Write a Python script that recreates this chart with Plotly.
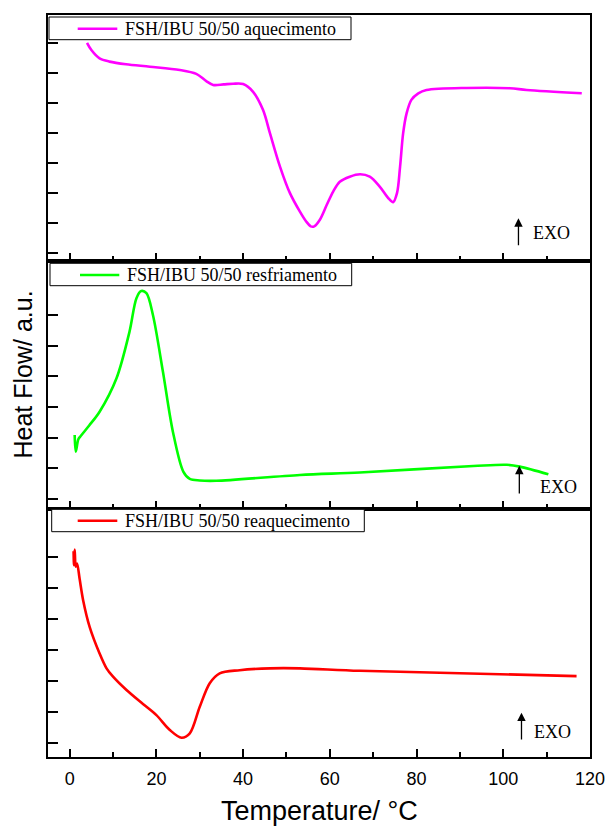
import plotly.graph_objects as go

# DSC curves, FSH/IBU 50/50 (temperature in °C, heat flow in arbitrary units)
heat_T = [4.0, 5.0, 6.9, 9.2, 13.0, 18.5, 25.4, 29.2, 31.5, 33.1, 35.5, 37.7, 40.0,
          42.3, 44.6, 46.2, 48.5, 50.8, 53.1, 54.5, 55.6, 56.4, 57.7, 59.3, 60.8,
          62.3, 64.6, 67.0, 69.2, 71.5, 73.5, 74.6, 75.5, 76.2, 76.9, 77.7, 78.8,
          80.4, 82.3, 91.5, 101.5, 105.4, 118.1]
heat_HF = [7.02, 6.78, 6.50, 6.39, 6.30, 6.22, 6.11, 5.98, 5.74, 5.61, 5.63, 5.65, 5.64,
           5.38, 4.77, 3.99, 2.88, 1.99, 1.37, 1.05, 0.88, 0.88, 1.10, 1.60, 2.05,
           2.37, 2.54, 2.62, 2.54, 2.21, 1.82, 1.69, 2.00, 2.88, 3.99, 4.66, 5.11,
           5.33, 5.44, 5.51, 5.50, 5.44, 5.33]

cool_T = [1.15, 1.4, 2.0, 2.5, 4.5, 6.9, 10.8, 13.8, 15.4, 16.5, 17.7, 19.2, 21.5,
          23.8, 26.2, 27.7, 30.0, 33.8, 53.1, 66.9, 93.1, 100.8, 103.8, 110.4]
cool_HF = [2.09, 1.55, 1.95, 2.05, 2.40, 2.85, 3.94, 5.46, 6.55, 6.78, 6.71, 6.00, 4.16,
           2.20, 0.90, 0.66, 0.61, 0.60, 0.79, 0.87, 1.08, 1.12, 1.06, 0.81]

reheat_T = [0.9, 1.0, 1.15, 1.4, 1.7, 2.3, 3.1, 4.6, 6.9, 8.5, 10.0, 13.1, 16.9,
            20.0, 23.1, 25.8, 27.7, 30.0, 32.3, 34.6, 39.2, 46.2, 53.1, 66.9, 116.9]
reheat_HF = [6.20, 5.75, 6.25, 5.70, 5.80, 5.30, 4.62, 3.76, 2.90, 2.42, 2.15, 1.72,
             1.27, 0.91, 0.43, 0.18, 0.32, 1.18, 1.94, 2.26, 2.36, 2.42, 2.42, 2.34, 2.17]

series_names = ["FSH/IBU 50/50 aquecimento",
                "FSH/IBU 50/50 resfriamento",
                "FSH/IBU 50/50 reaquecimento"]
series_colors = ["#FF00FF", "#00FF00", "#FF0000"]

x_ticks = [0, 20, 40, 60, 80, 100, 120]
x_minor = [10, 30, 50, 70, 90, 110]

W, H = 609, 827
L, R, T, B = 48, 19, 15, 70
pw, ph = W - L - R, H - T - B


def px_x(p):
    return (p - L) / pw


def px_y(p):
    return (H - B - p) / ph


# panel boundaries in page pixels (top, bottom)
panels = [(15, 261), (261, 509), (509, 757)]
y_ranges = [[-0.28, 7.95], [-0.32, 7.76], [-0.44, 7.56]]
y_ticks = [list(range(0, 8)), list(range(0, 7)), list(range(0, 7))]

fig = go.Figure()
data = [(heat_T, heat_HF), (cool_T, cool_HF), (reheat_T, reheat_HF)]
for i, (xs, ys) in enumerate(data):
    sfx = "" if i == 0 else str(i + 1)
    fig.add_trace(go.Scatter(
        x=xs, y=ys, mode="lines", name=series_names[i],
        line=dict(color=series_colors[i], width=2.6, shape="spline", smoothing=0.9),
        xaxis="x" + sfx, yaxis="y" + sfx, showlegend=False,
    ))

layout = dict(
    width=W, height=H,
    margin=dict(l=L, r=R, t=T, b=B, autoexpand=False),
    paper_bgcolor="white", plot_bgcolor="white",
    font=dict(family="Liberation Sans, Arial", color="black"),
)

for i, (top, bot) in enumerate(panels):
    sfx = "" if i == 0 else str(i + 1)
    xa = dict(
        domain=[0, 1], range=[-5, 120], anchor="y" + sfx, automargin=False,
        showline=True, linewidth=2, linecolor="black", mirror=True,
        ticks="inside", ticklen=8, tickwidth=1.5, tickcolor="black",
        tickvals=x_ticks,
        minor=dict(ticks="inside", ticklen=5, tickwidth=1.5, tickcolor="black",
                   tickvals=x_minor),
        showgrid=False, zeroline=False,
        showticklabels=(i == 2),
        tickfont=dict(size=18, family="Liberation Sans, Arial"),
    )
    if i == 2:
        xa["ticklabelstandoff"] = 4
    else:
        xa["matches"] = "x3"
    ya = dict(
        domain=[px_y(bot), px_y(top)], range=y_ranges[i], anchor="x" + sfx,
        automargin=False,
        showline=True, linewidth=2, linecolor="black", mirror=True,
        ticks="inside", ticklen=10, tickwidth=1.5, tickcolor="black",
        tickvals=y_ticks[i], showticklabels=False,
        showgrid=False, zeroline=False,
    )
    layout["xaxis" + sfx] = xa
    layout["yaxis" + sfx] = ya

fig.update_layout(**layout)

# Axis titles
fig.add_annotation(
    text="Temperature/ °C", xref="paper", yref="paper",
    x=px_x(319.5), y=px_y(811), showarrow=False,
    xanchor="center", yanchor="middle",
    font=dict(size=27, family="Liberation Sans, Arial", color="black"),
)
fig.add_annotation(
    text="Heat Flow/ a.u.", xref="paper", yref="paper",
    x=px_x(22.5), y=px_y(375), textangle=-90, showarrow=False,
    xanchor="center", yanchor="middle",
    font=dict(size=25, family="Liberation Sans, Arial", color="black"),
)

# Framed legends at the top-left of each panel
legend_boxes = [
    dict(box=(49, 17, 351, 39.7), line=(77.7, 117.3, 28.7), text_x=123.3),
    dict(box=(50, 263.3, 351.7, 285.7), line=(80, 119.3, 275), text_x=125),
    dict(box=(51.7, 509.3, 364.3, 531.7), line=(77.7, 117.3, 520.7), text_x=123.3),
]
for i, lg in enumerate(legend_boxes):
    x0, y0, x1, y1 = lg["box"]
    fig.add_shape(type="rect", xref="paper", yref="paper",
                  x0=px_x(x0), x1=px_x(x1), y0=px_y(y1), y1=px_y(y0),
                  line=dict(color="black", width=1), fillcolor="white", layer="above")
    lx0, lx1, ly = lg["line"]
    fig.add_shape(type="line", xref="paper", yref="paper",
                  x0=px_x(lx0), x1=px_x(lx1), y0=px_y(ly), y1=px_y(ly),
                  line=dict(color=series_colors[i], width=2.6), layer="above")
    fig.add_annotation(
        text=series_names[i], xref="paper", yref="paper",
        x=px_x(lg["text_x"]), y=px_y(ly), xanchor="left", yanchor="middle",
        showarrow=False,
        font=dict(size=18, family="Liberation Serif, Times New Roman", color="black"),
    )

# EXO direction markers
exo = [
    dict(ax="x", ay="y", x=103.5, head=1.15, tail=0.20, tx=106.5, ty=0.65),
    dict(ax="x2", ay="y2", x=103.7, head=1.09, tail=0.14, tx=108.0, ty=0.39),
    dict(ax="x3", ay="y3", x=104.2, head=0.99, tail=0.08, tx=106.7, ty=0.37),
]
for e in exo:
    fig.add_annotation(
        xref=e["ax"], yref=e["ay"], x=e["x"], y=e["head"],
        axref=e["ax"], ayref=e["ay"], ax=e["x"], ay=e["tail"],
        text="", showarrow=True, arrowhead=2, arrowsize=1.3, arrowwidth=1.3,
        arrowcolor="black",
    )
    fig.add_annotation(
        xref=e["ax"], yref=e["ay"], x=e["tx"], y=e["ty"], text="EXO",
        showarrow=False, xanchor="left", yanchor="middle",
        font=dict(size=18, family="Liberation Serif, Times New Roman", color="black"),
    )

fig.write_html("out.html")
